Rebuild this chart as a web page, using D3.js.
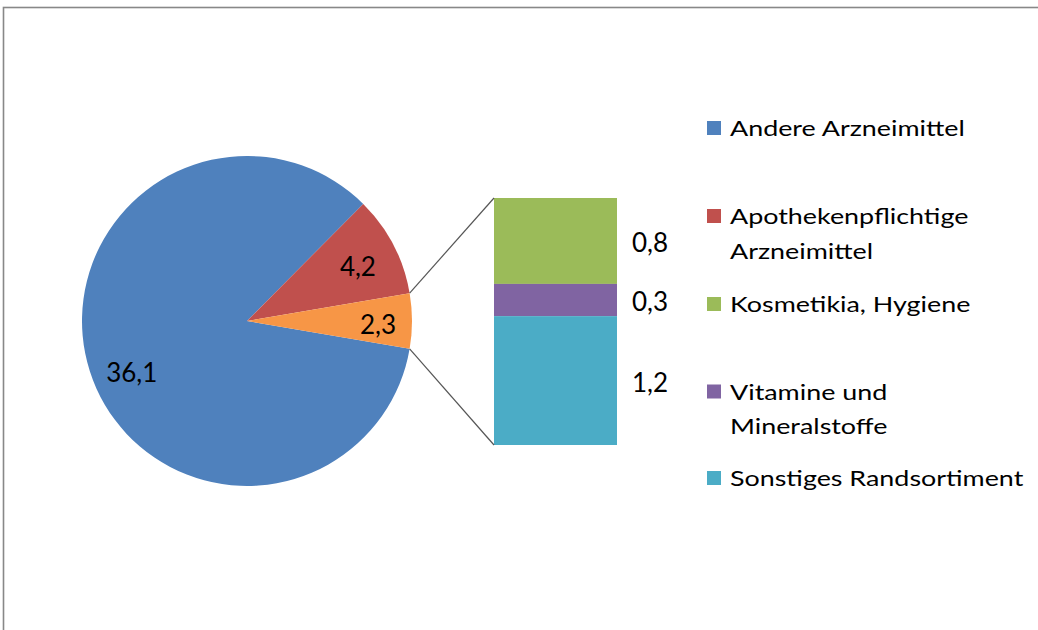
<!DOCTYPE html>
<html><head><meta charset="utf-8">
<script src="https://cdn.jsdelivr.net/npm/d3@7"></script>
<style>html,body{margin:0;padding:0;background:#fff;overflow:hidden}</style>
</head><body>
<script>
const pieCategories = ["Andere Arzneimittel", "Apothekenpflichtige Arzneimittel", "Übrige"];
const pieValues = [36.1, 4.2, 2.3];
const pieLabels = ["36,1", "4,2", "2,3"];
const barCategories = ["Kosmetikia, Hygiene", "Vitamine und Mineralstoffe", "Sonstiges Randsortiment"];
const barValues = [0.8, 0.3, 1.2];
const barLabels = ["0,8", "0,3", "1,2"];
const legendItems = [["Andere Arzneimittel"], ["Apothekenpflichtige", "Arzneimittel"], ["Kosmetikia, Hygiene"], ["Vitamine und", "Mineralstoffe"], ["Sonstiges Randsortiment"]];
const pieColors = ["#4F81BD", "#C0504D", "#F79646"];
const barColors = ["#9BBB59", "#8064A2", "#4BACC6"];
const legendColors = ["#4F81BD", "#C0504D", "#9BBB59", "#8064A2", "#4BACC6"];

const W = 1038, H = 630;
const svg = d3.select("body").append("svg").attr("width", W).attr("height", H);
svg.append("rect").attr("x", 3.5).attr("y", 7.5).attr("width", 1100).attr("height", 700)
  .attr("fill", "#fff").attr("stroke", "#888").attr("stroke-width", 1.6);

const font = "Lato, 'Open Sans', sans-serif";
const cx = 247, cy = 321, R = 165;
const total = d3.sum(pieValues);
const half = pieValues[2] / total * Math.PI;
const start = Math.PI / 2 + half;
const pie = d3.pie().sort(null).startAngle(start).endAngle(start + 2 * Math.PI);
const arcs = pie(pieValues);
const arc = d3.arc().innerRadius(0).outerRadius(R);
const g = svg.append("g").attr("transform", `translate(${cx},${cy})`);
g.selectAll("path").data(arcs).join("path").attr("d", arc).attr("fill", (d, i) => pieColors[i]);
const labelR = [125, 125, 131];
const labelShift = [-5 * Math.PI / 180, 0, 0];
g.selectAll("text").data(arcs).join("text")
  .attr("x", (d, i) => labelR[i] * Math.sin((d.startAngle + d.endAngle) / 2 + labelShift[i]))
  .attr("y", (d, i) => 3 - labelR[i] * Math.cos((d.startAngle + d.endAngle) / 2 + labelShift[i]))
  .attr("text-anchor", "middle").attr("dominant-baseline", "central")
  .attr("font-family", font).attr("font-size", 26).attr("fill", "#000")
  .text((d, i) => pieLabels[i]);

// bar of pie
const bx0 = 494, bx1 = 617, by0 = 198, by1 = 445;
const barTotal = d3.sum(barValues);
const y = d3.scaleLinear().domain([0, barTotal]).range([by0, by1]);
let cum = 0;
const segs = barValues.map((v, i) => { const s = { v, i, a: cum, b: cum + v }; cum += v; return s; });
svg.selectAll("rect.seg").data(segs).join("rect").attr("class", "seg")
  .attr("x", bx0).attr("width", bx1 - bx0)
  .attr("y", d => y(d.a)).attr("height", d => y(d.b) - y(d.a))
  .attr("fill", d => barColors[d.i]);
svg.selectAll("text.bl").data(segs).join("text").attr("class", "bl")
  .attr("x", bx1 + 15).attr("y", d => (y(d.a) + y(d.b)) / 2 + 1)
  .attr("dominant-baseline", "central")
  .attr("font-family", font).attr("font-size", 26).attr("fill", "#000")
  .text(d => barLabels[d.i]);

// connectors
const o = arcs[2];
const p1 = [cx + R * Math.sin(o.startAngle), cy - R * Math.cos(o.startAngle)];
const p2 = [cx + R * Math.sin(o.endAngle), cy - R * Math.cos(o.endAngle)];
svg.append("line").attr("x1", p1[0]).attr("y1", p1[1]).attr("x2", bx0).attr("y2", by0).attr("stroke", "#555").attr("stroke-width", 1.2);
svg.append("line").attr("x1", p2[0]).attr("y1", p2[1]).attr("x2", bx0).attr("y2", by1).attr("stroke", "#555").attr("stroke-width", 1.2);

// legend
const legendY = [128, 216, 304, 391.5, 478];
const lg = svg.selectAll("g.leg").data(legendItems).join("g").attr("class", "leg")
  .attr("transform", (d, i) => `translate(707,${legendY[i]})`);
lg.append("rect").attr("x", 0).attr("y", -7).attr("width", 14).attr("height", 14).attr("fill", (d, i) => legendColors[i]);
lg.each(function (d) {
  const t = d3.select(this).append("g").attr("transform", "translate(23,0) scale(1.28,1)")
    .append("text").attr("font-family", font).attr("font-size", 21).attr("fill", "#000");
  d.forEach((line, j) => t.append("tspan").attr("x", 0).attr("y", 8 + j * 35).text(line));
});
</script>
</body></html>
